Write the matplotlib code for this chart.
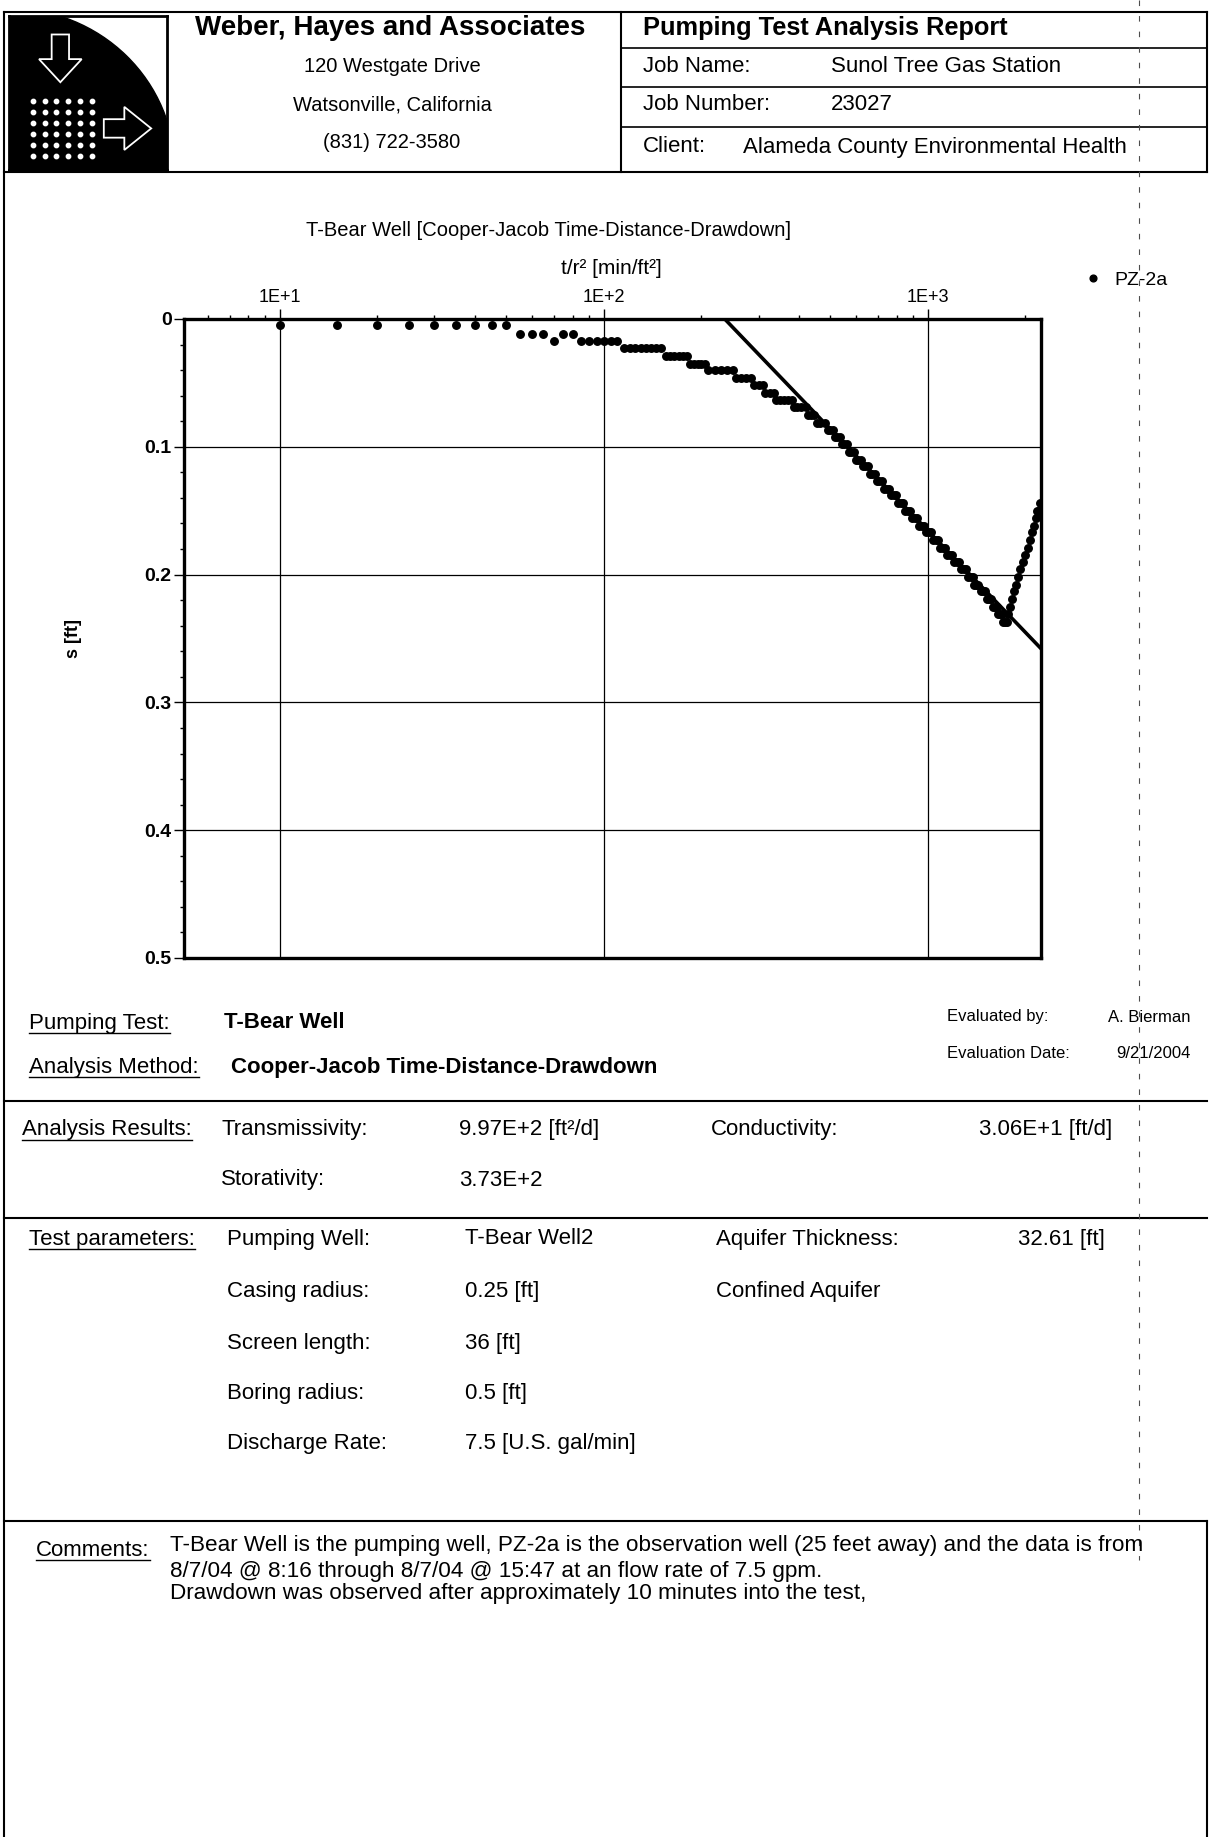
import matplotlib
matplotlib.use("Agg")
import matplotlib.pyplot as plt
from matplotlib.lines import Line2D
from matplotlib.patches import Circle, Polygon
from matplotlib.ticker import LogLocator, MultipleLocator, NullFormatter

plt.rcParams['font.family'] = ['Liberation Sans', 'DejaVu Sans']

W, H = 1209, 1837

# PZ-2a observation well: t/r^2 [min/ft^2] and drawdown s [ft]
t_r2 = [10, 15, 20, 25, 30, 35, 40, 45, 50,
        55, 60, 65, 70, 75, 80, 85, 90, 95, 100, 105, 110,
        115, 120, 125, 130, 135, 140, 145, 150,
        155, 160, 165, 170, 175, 180,
        185, 190, 195, 200, 205,
        210, 220, 230, 240, 250,
        255, 265, 275, 285,
        290, 300, 310,
        315, 325, 335,
        340, 350, 360, 370, 380,
        385, 395, 405, 420,
        425, 435, 445,
        455, 465, 480,
        491, 500, 508,
        516, 525, 534,
        543, 552, 561,
        570, 580, 590,
        599, 610, 620,
        630, 641, 652,
        662, 674, 685,
        696, 708, 720,
        732, 745, 757,
        770, 783, 796,
        809, 823, 837,
        850, 865, 880,
        894, 909, 925,
        940, 956, 972,
        988, 1005, 1022,
        1038, 1056, 1074,
        1092, 1111, 1129,
        1147, 1167, 1187,
        1206, 1227, 1248,
        1268, 1290, 1312,
        1333, 1355, 1378,
        1390, 1410, 1430,
        1455, 1475, 1495,
        1525, 1545, 1565,
        1590, 1610, 1630,
        1650, 1670, 1690,
        1705, 1730, 1750,
        1770, 1790, 1815, 1840, 1870, 1900, 1930, 1965,
        2000, 2035, 2070, 2100, 2125, 2150, 2175, 2200, 2220]
drawdown = [0.005, 0.005, 0.005, 0.005, 0.005, 0.005, 0.005, 0.005, 0.005,
            0.012, 0.012, 0.012, 0.017, 0.012, 0.012, 0.017, 0.017, 0.017, 0.017, 0.017, 0.017,
            0.023, 0.023, 0.023, 0.023, 0.023, 0.023, 0.023, 0.023,
            0.029, 0.029, 0.029, 0.029, 0.029, 0.029,
            0.035, 0.035, 0.035, 0.035, 0.035,
            0.040, 0.040, 0.040, 0.040, 0.040,
            0.046, 0.046, 0.046, 0.046,
            0.052, 0.052, 0.052,
            0.058, 0.058, 0.058,
            0.063, 0.063, 0.063, 0.063, 0.063,
            0.069, 0.069, 0.069, 0.069,
            0.075, 0.075, 0.075,
            0.081, 0.081, 0.081,
            0.087, 0.087, 0.087,
            0.092, 0.092, 0.092,
            0.098, 0.098, 0.098,
            0.104, 0.104, 0.104,
            0.110, 0.110, 0.110,
            0.115, 0.115, 0.115,
            0.121, 0.121, 0.121,
            0.127, 0.127, 0.127,
            0.133, 0.133, 0.133,
            0.138, 0.138, 0.138,
            0.144, 0.144, 0.144,
            0.150, 0.150, 0.150,
            0.156, 0.156, 0.156,
            0.162, 0.162, 0.162,
            0.167, 0.167, 0.167,
            0.173, 0.173, 0.173,
            0.179, 0.179, 0.179,
            0.185, 0.185, 0.185,
            0.190, 0.190, 0.190,
            0.196, 0.196, 0.196,
            0.202, 0.202, 0.202,
            0.208, 0.208, 0.208,
            0.213, 0.213, 0.213,
            0.219, 0.219, 0.219,
            0.225, 0.225, 0.225,
            0.231, 0.231, 0.231,
            0.237, 0.237, 0.237,
            0.231, 0.225, 0.219, 0.213, 0.208, 0.202, 0.196, 0.190,
            0.185, 0.179, 0.173, 0.167, 0.162, 0.156, 0.150, 0.150, 0.144]

# Cooper-Jacob straight line
fit_t_r2 = [236, 2235]
fit_s = [0.0, 0.258]

x_ticks = [10, 100, 1000]
x_tick_labels = ['1E+1', '1E+2', '1E+3']
y_ticks = [0, 0.1, 0.2, 0.3, 0.4, 0.5]
y_tick_labels = ['0', '0.1', '0.2', '0.3', '0.4', '0.5']

company = ["120 Westgate Drive", "Watsonville, California", "(831) 722-3580"]
job_rows = [("Job Name:", "Sunol Tree Gas Station", 831),
            ("Job Number:", "23027", 831),
            ("Client:", "Alameda County Environmental Health", 743)]
results_rows = [("Transmissivity:", "9.97E+2 [ft\u00b2/d]", "Conductivity:", "3.06E+1 [ft/d]"),
                ("Storativity:", "3.73E+2", "", "")]
param_rows = [("Pumping Well:", "T-Bear Well2", "Aquifer Thickness:", "32.61 [ft]"),
              ("Casing radius:", "0.25 [ft]", "Confined Aquifer", ""),
              ("Screen length:", "36 [ft]", "", ""),
              ("Boring radius:", "0.5 [ft]", "", ""),
              ("Discharge Rate:", "7.5 [U.S. gal/min]", "", "")]
comment_lines = ["T-Bear Well is the pumping well, PZ-2a is the observation well (25 feet away) and the data is from",
                 "8/7/04 @ 8:16 through 8/7/04 @ 15:47 at an flow rate of 7.5 gpm.",
                 "Drawdown was observed after approximately 10 minutes into the test,"]


def px(x):
    return x / W


def py(y):
    return 1 - y / H


fig = plt.figure(figsize=(W / 100, H / 100), dpi=100)
renderer = fig.canvas.get_renderer()


def hline(y, x0=4, x1=1207, lw=1.5):
    fig.add_artist(Line2D([px(x0), px(x1)], [py(y), py(y)], color='black', lw=lw))


def vline(x, y0, y1, lw=1.5, **kw):
    fig.add_artist(Line2D([px(x), px(x)], [py(y0), py(y1)], color=kw.pop('color', 'black'), lw=lw, **kw))


def text(x, y, s, size=16, **kw):
    return fig.text(px(x), py(y), s, fontsize=size, va='center', **kw)


def underlined(x, y, s, size=16):
    t = text(x, y, s, size)
    bb = t.get_window_extent(renderer)
    yl = bb.y0 + 1
    fig.add_artist(Line2D([bb.x0 / W, bb.x1 / W], [yl / H, yl / H], color='black', lw=1.0))
    return t


# page frame
hline(12)
hline(172)
vline(4, 12, H)
vline(1207, 12, 172)
vline(621, 12, 172)
for y in [48, 87, 127]:
    hline(y, 621, 1207, lw=1.2)
hline(1101)
hline(1218)
hline(1521)
vline(1207, 1521, H)
# scanner streak
vline(1139, 0, 1560, lw=0.8, color='0.3', dashes=(5, 9))

# logo
lax = fig.add_axes([px(9), py(170), px(158), 154 / H])
lax.set_xlim(0, 1)
lax.set_ylim(0, 1)
lax.set_xticks([])
lax.set_yticks([])
lax.set_facecolor('white')
for sp in lax.spines.values():
    sp.set_linewidth(2)
lax.add_patch(Circle((0, 0), 1.05, color='black'))
lax.add_patch(Polygon([[0.27, 0.88], [0.38, 0.88], [0.38, 0.72], [0.46, 0.72], [0.325, 0.57],
                       [0.19, 0.72], [0.27, 0.72]], fc='black', ec='white', lw=1.3))
lax.add_patch(Polygon([[0.6, 0.33], [0.73, 0.33], [0.73, 0.41], [0.9, 0.27], [0.73, 0.13],
                       [0.73, 0.21], [0.6, 0.21]], fc='black', ec='white', lw=1.3))
dot_x = [0.15 + 0.075 * i for i in range(6)]
dot_y = [0.45 - 0.072 * j for j in range(6)]
lax.scatter([a for a in dot_x for _ in dot_y], [b for _ in dot_x for b in dot_y], s=10, color='white', zorder=3)

# header text
text(390, 28, "Weber, Hayes and Associates", 20, weight='bold', ha='center')
for y, s in zip([67, 105, 143], company):
    text(392, y, s, 14.5, ha='center')
text(643, 28, "Pumping Test Analysis Report", 18.3, weight='bold')
for y, (lab, val, vx) in zip([67, 105, 147], job_rows):
    text(643, y, lab, 16)
    text(vx, y, val, 16)

# chart
ax = fig.add_axes([px(184), py(958), px(1041 - 184), (958 - 319) / H])
ax.set_xscale('log')
ax.plot(fit_t_r2, fit_s, color='black', lw=2.6, zorder=3)
ax.plot(t_r2, drawdown, 'o', ms=5.4, mfc='black', mec='black', mew=1.0, label='PZ-2a', zorder=4)
ax.set_xlim(5.06, 2233)
ax.set_ylim(0.5, 0)
ax.xaxis.tick_top()
ax.set_xticks(x_ticks, x_tick_labels, fontsize=13)
ax.xaxis.set_minor_locator(LogLocator(base=10, subs=range(2, 10)))
ax.xaxis.set_minor_formatter(NullFormatter())
ax.set_yticks(y_ticks, y_tick_labels, fontsize=14, fontweight='bold')
ax.yaxis.set_minor_locator(MultipleLocator(0.02))
ax.tick_params(axis='both', which='major', direction='out', length=7, width=1, pad=2)
ax.tick_params(axis='both', which='minor', direction='out', length=3, width=1)
ax.grid(True, which='major', color='black', lw=0.9)
for sp in ax.spines.values():
    sp.set_linewidth(2.4)
ax.legend(loc='center left', bbox_to_anchor=(px(1070), py(280)), bbox_transform=fig.transFigure,
          frameon=False, handlelength=0.6, handletextpad=0.8, fontsize=14, markerscale=0.9)

text(549, 231, "T-Bear Well [Cooper-Jacob Time-Distance-Drawdown]", 14.5, ha='center')
text(611, 268, "t/r\u00b2 [min/ft\u00b2]", 15, ha='center')
fig.text(px(74), py(638), "s [ft]", fontsize=13, weight='bold', rotation=90, ha='center', va='center')

# analysis block
underlined(29, 1023, "Pumping Test:")
text(224, 1023, "T-Bear Well", 16, weight='bold')
underlined(29, 1067, "Analysis Method:")
text(231, 1067, "Cooper-Jacob Time-Distance-Drawdown", 16, weight='bold')
text(947, 1017, "Evaluated by:", 12)
text(1191, 1017, "A. Bierman", 12, ha='right')
text(947, 1054, "Evaluation Date:", 12)
text(1191, 1054, "9/21/2004", 12, ha='right')

underlined(22, 1130, "Analysis Results:")
for y, row in zip([1130, 1180], results_rows):
    for x, s in zip([221, 459, 711, 979], row):
        text(x, y, s, 16)

underlined(29, 1239, "Test parameters:")
for y, row in zip([1239, 1292, 1344, 1394, 1443], param_rows):
    for x, s in zip([227, 465, 716, 1018], row):
        text(x, y, s, 16)

underlined(36, 1550, "Comments:")
for y, s in zip([1546, 1571, 1594], comment_lines):
    text(170, y, s, 16.2)

fig.savefig('out.png', dpi=100)
